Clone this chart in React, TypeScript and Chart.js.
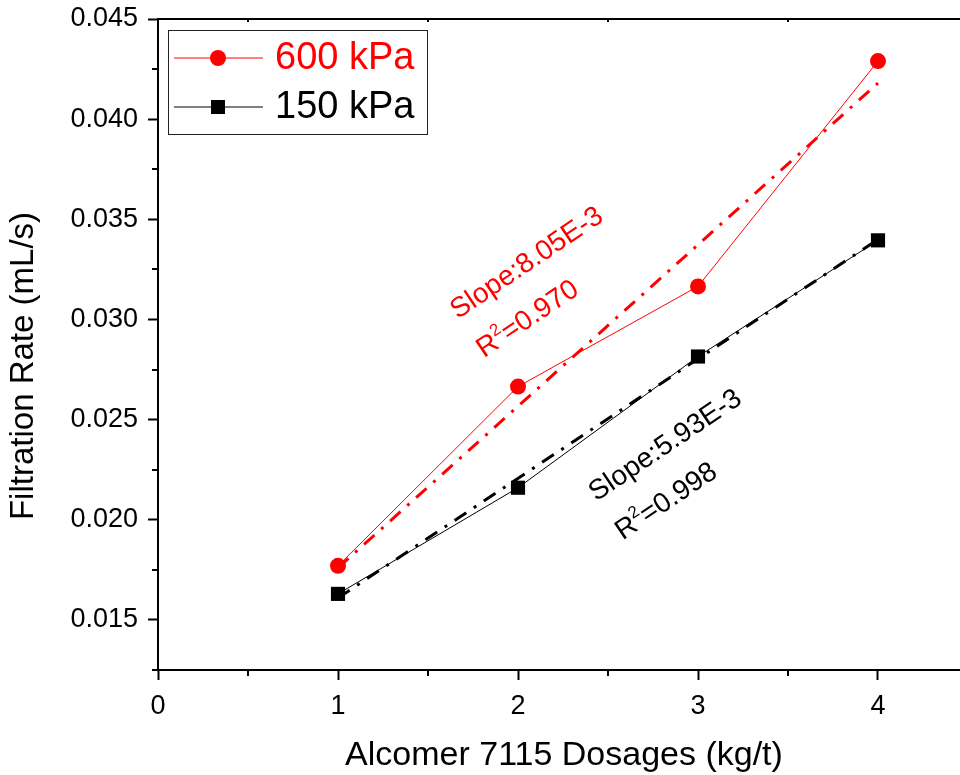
import React, { useEffect, useRef } from 'react';
import { Chart, registerables } from 'chart.js';

Chart.register(...registerables);

const dosages = [1, 2, 3, 4];
const rate600 = [0.0177, 0.02665, 0.03165, 0.0429];
const rate150 = [0.0163, 0.0216, 0.02815, 0.03395];
const fitX = [1, 4];
const fit600 = [0.0176, 0.0418];
const fit150 = [0.0161, 0.034];
const xMajorTicks = [0, 1, 2, 3, 4];
const xMinorTicks = [0.5, 1.5, 2.5, 3.5];
const yMajorTicks = [0.015, 0.02, 0.025, 0.03, 0.035, 0.04, 0.045];
const yMinorTicks = [0.0125, 0.0175, 0.0225, 0.0275, 0.0325, 0.0375, 0.0425];
const seriesLabels = ['600 kPa', '150 kPa'];
const xTitle = 'Alcomer 7115 Dosages (kg/t)';
const yTitle = 'Filtration Rate (mL/s)';
const slopeTexts = ['Slope:8.05E-3', 'Slope:5.93E-3'];
const r2Texts = ['=0.970', '=0.998'];
const slopePos = [[2.05, 0.0328], [2.82, 0.0237]];
const r2Pos = [[2.055, 0.03], [2.825, 0.0209]];

const RED = '#ff0000';
const BLACK = '#000000';
const FONT = '"Liberation Sans", Arial, sans-serif';
const CANVAS_W = 970;

const overlay = {
  id: 'overlay',
  afterDraw(chart: any) {
    const { ctx, chartArea: ca, scales } = chart;
    const xs = scales.x;
    const ys = scales.y;
    ctx.save();
    ctx.strokeStyle = BLACK;
    ctx.lineWidth = 2;
    ctx.beginPath();
    ctx.moveTo(ca.left, ca.top);
    ctx.lineTo(ca.right, ca.top);
    ctx.stroke();
    xMinorTicks.forEach((v) => {
      const px = Math.round(xs.getPixelForValue(v));
      ctx.beginPath();
      ctx.moveTo(px, ca.bottom);
      ctx.lineTo(px, ca.bottom + 6);
      ctx.stroke();
      ctx.beginPath();
      ctx.moveTo(px, ca.top);
      ctx.lineTo(px, ca.top + 3);
      ctx.stroke();
    });
    yMinorTicks.forEach((v) => {
      const py = Math.round(ys.getPixelForValue(v));
      ctx.beginPath();
      ctx.moveTo(ca.left, py);
      ctx.lineTo(ca.left - 6, py);
      ctx.stroke();
    });

    ctx.fillStyle = BLACK;
    ctx.textAlign = 'center';
    ctx.textBaseline = 'middle';
    ctx.font = `34px ${FONT}`;
    ctx.fillText(xTitle, 564, 756);
    ctx.save();
    ctx.translate(24, 366);
    ctx.rotate(-Math.PI / 2);
    ctx.font = `33px ${FONT}`;
    ctx.fillText(yTitle, 0, 0);
    ctx.restore();

    ctx.lineWidth = 1;
    ctx.strokeStyle = '#222';
    ctx.strokeRect(168.5, 30.5, 259, 104);
    const items = [
      { y: 58, color: RED, label: seriesLabels[0], shape: 'circle' },
      { y: 107, color: BLACK, label: seriesLabels[1], shape: 'rect' },
    ];
    items.forEach((it) => {
      ctx.strokeStyle = it.color;
      ctx.fillStyle = it.color;
      ctx.lineWidth = 1;
      ctx.beginPath();
      ctx.moveTo(174, it.y);
      ctx.lineTo(263, it.y);
      ctx.stroke();
      if (it.shape === 'circle') {
        ctx.beginPath();
        ctx.arc(218, it.y, 8, 0, Math.PI * 2);
        ctx.fill();
      } else {
        ctx.fillRect(211, it.y - 7, 14, 14);
      }
      ctx.font = `38px ${FONT}`;
      ctx.textAlign = 'left';
      ctx.textBaseline = 'middle';
      ctx.fillText(it.label, 275, it.y + 1);
    });

    const angle = (-34 * Math.PI) / 180;
    const colors = [RED, BLACK];
    [0, 1].forEach((i) => {
      ctx.fillStyle = colors[i];
      ctx.save();
      ctx.translate(xs.getPixelForValue(slopePos[i][0]), ys.getPixelForValue(slopePos[i][1]));
      ctx.rotate(angle);
      ctx.font = `28px ${FONT}`;
      ctx.textAlign = 'center';
      ctx.textBaseline = 'middle';
      ctx.fillText(slopeTexts[i], 0, 0);
      ctx.restore();
      ctx.save();
      ctx.translate(xs.getPixelForValue(r2Pos[i][0]), ys.getPixelForValue(r2Pos[i][1]));
      ctx.rotate(angle);
      ctx.textBaseline = 'middle';
      ctx.textAlign = 'left';
      ctx.font = `28px ${FONT}`;
      const wR = ctx.measureText('R').width;
      const wRest = ctx.measureText(r2Texts[i]).width;
      ctx.font = `17px ${FONT}`;
      const w2 = ctx.measureText('2').width;
      const total = wR + w2 + wRest;
      const x0 = -total / 2;
      ctx.font = `28px ${FONT}`;
      ctx.fillText('R', x0, 0);
      ctx.font = `17px ${FONT}`;
      ctx.fillText('2', x0 + wR, -9);
      ctx.font = `28px ${FONT}`;
      ctx.fillText(r2Texts[i], x0 + wR + w2, 0);
      ctx.restore();
    });
    ctx.restore();
  },
};

const zeroPad = (s: any) => {
  s.paddingTop = 0;
  s.paddingBottom = 0;
  s.paddingLeft = 0;
  s.paddingRight = 0;
};

export default function App() {
  const ref = useRef<HTMLCanvasElement | null>(null);
  useEffect(() => {
    if (!ref.current) return;
    const chart = new Chart(ref.current, {
      type: 'line',
      data: {
        datasets: [
          {
            label: 'fit600',
            data: fitX.map((x, i) => ({ x, y: fit600[i] })),
            borderColor: RED,
            borderWidth: 3,
            borderDash: [14, 9, 3, 9],
            pointRadius: 0,
            fill: false,
            order: 3,
          },
          {
            label: 'fit150',
            data: fitX.map((x, i) => ({ x, y: fit150[i] })),
            borderColor: BLACK,
            borderWidth: 3,
            borderDash: [14, 9, 3, 9],
            pointRadius: 0,
            fill: false,
            order: 3,
          },
          {
            label: seriesLabels[0],
            data: dosages.map((x, i) => ({ x, y: rate600[i] })),
            borderColor: RED,
            backgroundColor: RED,
            borderWidth: 1,
            pointStyle: 'circle',
            pointRadius: 8,
            pointBorderWidth: 0,
            pointBackgroundColor: RED,
            fill: false,
            order: 1,
          },
          {
            label: seriesLabels[1],
            data: dosages.map((x, i) => ({ x, y: rate150[i] })),
            borderColor: BLACK,
            backgroundColor: BLACK,
            borderWidth: 1,
            pointStyle: 'rect',
            pointRadius: 10,
            pointBorderWidth: 0,
            pointBackgroundColor: BLACK,
            fill: false,
            order: 1,
          },
        ],
      },
      options: {
        responsive: false,
        animation: false,
        devicePixelRatio: 1,
        layout: { padding: { top: 19, right: 0, left: 0, bottom: 0 } },
        plugins: { legend: { display: false }, tooltip: { enabled: false } },
        scales: {
          x: {
            type: 'linear',
            min: 0,
            max: 802 / 180,
            afterBuildTicks: (s: any) => {
              s.ticks = xMajorTicks.map((v) => ({ value: v }));
            },
            afterFit: (s: any) => {
              s.height = 105;
              zeroPad(s);
            },
            ticks: {
              callback: (v: any) => String(v),
              color: BLACK,
              font: { family: FONT, size: 27 },
              padding: 10,
              maxRotation: 0,
            },
            grid: {
              display: true,
              drawOnChartArea: false,
              drawTicks: true,
              tickLength: 10,
              tickWidth: 2,
              tickColor: BLACK,
              color: BLACK,
            },
            border: { display: true, color: BLACK, width: 2 },
          },
          y: {
            type: 'linear',
            min: 0.0125,
            max: 0.045,
            afterBuildTicks: (s: any) => {
              s.ticks = yMajorTicks.map((v) => ({ value: v }));
            },
            afterFit: (s: any) => {
              s.width = 158;
              zeroPad(s);
            },
            ticks: {
              callback: (v: any) => Number(v).toFixed(3),
              color: BLACK,
              font: { family: FONT, size: 27 },
              padding: 10,
            },
            grid: {
              display: true,
              drawOnChartArea: false,
              drawTicks: true,
              tickLength: 10,
              tickWidth: 2,
              tickColor: BLACK,
              color: BLACK,
            },
            border: { display: true, color: BLACK, width: 2 },
          },
        },
      },
      plugins: [overlay],
    } as any);
    return () => chart.destroy();
  }, []);
  return (
    <div style={{ position: 'absolute', left: 0, top: 0, width: 960, height: 775, overflow: 'hidden', background: '#fff' }}>
      <canvas ref={ref} width={CANVAS_W} height={775} style={{ width: CANVAS_W, height: 775, display: 'block' }} />
    </div>
  );
}
